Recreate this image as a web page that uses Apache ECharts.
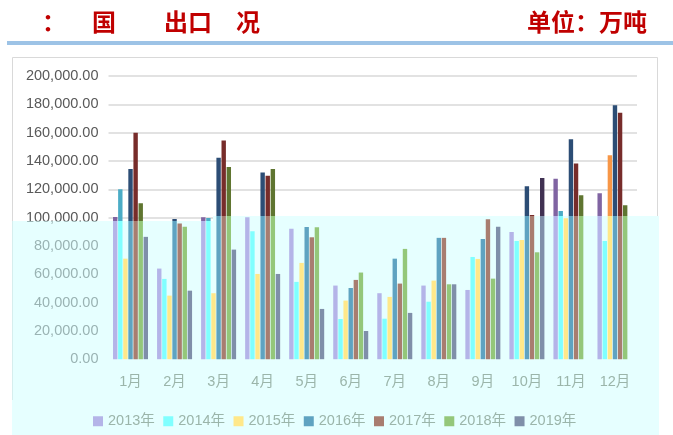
<!DOCTYPE html>
<html><head><meta charset="utf-8">
<script src="https://cdn.jsdelivr.net/npm/echarts@6/dist/echarts.min.js"></script>
<style>html,body{margin:0;padding:0;background:#fff}#c{width:673px;height:435px}</style>
</head><body><div id="c"></div>
<script>
const categories = ['1月','2月','3月','4月','5月','6月','7月','8月','9月','10月','11月','12月'];
const years = ['2013年','2014年','2015年','2016年','2017年','2018年','2019年'];
const v2013 = [100500, 64000, 100300, 100300, 92200, 52000, 46600, 52000, 48900, 89900, 127400, 117200];
const v2014 = [120000, 56700, 99800, 90400, 54600, 28400, 28600, 40600, 72200, 83500, 104700, 83500];
const v2015 = [71000, 44900, 46600, 60200, 68000, 41400, 44000, 55500, 70800, 84200, 99600, 144100];
const v2016 = [134400, 99000, 142200, 131800, 93400, 50300, 71000, 85700, 84900, 122200, 155400, 179400];
const v2017 = [160000, 95800, 154400, 129500, 86100, 56000, 53400, 85700, 98900, 101900, 138200, 174000];
const v2018 = [110200, 93600, 135800, 134400, 93200, 61200, 77900, 52900, 56900, 75500, 115800, 108800];
const v2019 = [86400, 48400, 77400, 60200, 35500, 19900, 32700, 52900, 93600, 128000, null, null];
const yTicks = {min: 0, max: 200000, interval: 20000};

const seriesValues = [v2013, v2014, v2015, v2016, v2017, v2018, v2019];
const lightColors = ['#B4B4E8','#80FFFF','#FFE88A','#5FA3C1','#A87D70','#94C77A','#7F8FA9'];
const darkColors  = ['#8064A2','#4BACC6','#F79646','#2C4D75','#772C2A','#5F7530','#403152'];

const W = 673, H = 435;
const GL = 108.5, GR = 36, GT = 76, GB = 75.8;
const CUT_X = 213, CUT_Y_LEFT = 221, CUT_Y_RIGHT = 216;
const CYAN = '#E6FFFF';
const labelLight = '#9BB5AA';
const FONT = '"Liberation Sans", "Noto Sans CJK SC", sans-serif';
const TFONT = 'bold 24px "Noto Sans CJK SC"';

function grad(dark, light, y) {
  const t = y / H;
  return {type:'linear', x:0, y:0, x2:0, y2:H, global:true,
    colorStops:[{offset:0,color:dark},{offset:t,color:dark},{offset:t,color:light},{offset:1,color:light}]};
}
const catW = (W - GL - GR) / categories.length;
const step = 5;

const series = seriesValues.map((vals, s) => ({
  name: years[s],
  type: 'bar',
  z: 2,
  barGap: '16%',
  barCategoryGap: '20.5%',
  itemStyle: {color: lightColors[s]},
  data: vals.map((v, i) => {
    if (v == null) return null;
    const cx = GL + (i + 0.5) * catW + (s - 3) * step;
    const cutY = cx < CUT_X ? CUT_Y_LEFT : CUT_Y_RIGHT;
    return {value: v, itemStyle: {color: grad(darkColors[s], lightColors[s], cutY)}};
  })
}));

const chart = echarts.init(document.getElementById('c'), null, {renderer:'canvas'});
const fmt = v => v.toLocaleString('en-US', {minimumFractionDigits:2, maximumFractionDigits:2});

chart.setOption({
  animation: false,
  backgroundColor: '#fff',
  textStyle: {fontFamily: FONT},
  grid: {left: GL, right: GR, top: GT, bottom: GB, containLabel: false},
  legend: {
    data: years, left: 88, top: 409, itemWidth: 10, itemHeight: 10, itemGap: 8.5, z: 5,
    icon: 'rect',
    textStyle: {color: labelLight, fontSize: 14.5, fontFamily: FONT}
  },
  xAxis: {
    type: 'category', data: categories, z: 3,
    axisLine: {show: false}, axisTick: {show: false},
    axisLabel: {color: labelLight, fontSize: 14.5, margin: 16, fontFamily: FONT}
  },
  yAxis: {
    type: 'value', min: yTicks.min, max: yTicks.max, interval: yTicks.interval, z: 0,
    axisLine: {show: false}, axisTick: {show: false},
    splitLine: {lineStyle: {color: '#D9D9D9', width: 1.5}},
    axisLabel: {color: '#595959', fontSize: 14.5, margin: 10, formatter: fmt, fontFamily: FONT}
  },
  graphic: [
    {type:'rect', z:0, shape:{x:12.5, y:57.5, width:645, height:380}, style:{fill:'none', stroke:'#D9D9D9', lineWidth:1}},
    {type:'rect', z:1, shape:{x:106, y:CUT_Y_LEFT, width:CUT_X-106, height:H-CUT_Y_LEFT}, style:{fill:CYAN}},
    {type:'rect', z:1, shape:{x:CUT_X, y:CUT_Y_RIGHT, width:659-CUT_X, height:H-CUT_Y_RIGHT}, style:{fill:CYAN}},
    {type:'rect', z:1, shape:{x:12, y:400, width:94, height:H-400}, style:{fill:CYAN}},
    {type:'rect', z:100, shape:{x:12, y:CUT_Y_LEFT, width:94, height:400-CUT_Y_LEFT}, style:{fill:'rgba(208,255,255,0.54)'}},
    {type:'rect', z:100, shape:{x:7, y:41, width:666, height:4}, style:{fill:'#9DC3E6'}},
    {type:'text', z:100, x:42, y:22, style:{text:'：', fill:'#C00000', font:TFONT, textVerticalAlign:'middle'}},
    {type:'text', z:100, x:92, y:22, style:{text:'国', fill:'#C00000', font:TFONT, textVerticalAlign:'middle'}},
    {type:'text', z:100, x:164, y:22, style:{text:'出口', fill:'#C00000', font:TFONT, textVerticalAlign:'middle'}},
    {type:'text', z:100, x:236, y:22, style:{text:'况', fill:'#C00000', font:TFONT, textVerticalAlign:'middle'}},
    {type:'text', z:100, x:647, y:22, style:{text:'单位：万吨', fill:'#C00000', font:TFONT, textAlign:'right', textVerticalAlign:'middle'}}
  ],
  series: series
});
</script></body></html>
